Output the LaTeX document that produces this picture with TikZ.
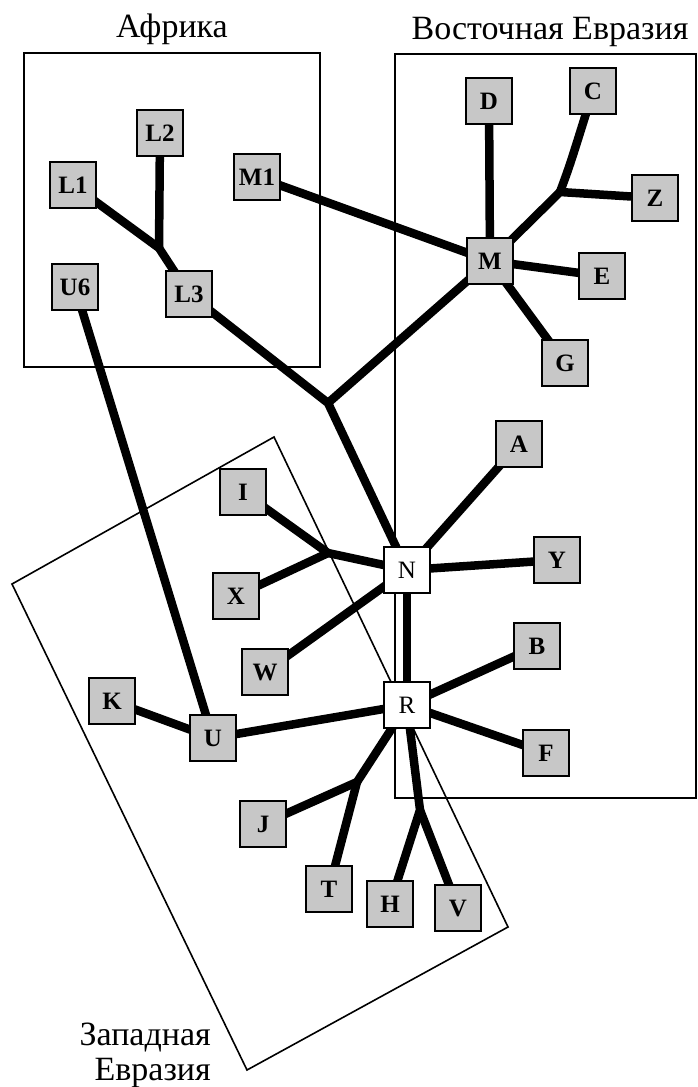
\documentclass[tikz,border=0pt]{standalone}
\usepackage{fontspec}
\setmainfont{Liberation Serif}
\usetikzlibrary{backgrounds}
\begin{document}
\begin{tikzpicture}[x=1pt,y=-1pt,
  hap/.style={draw, line width=2.8pt, fill=black!22, minimum size=46pt, inner sep=0pt, font=\fontsize{25}{25}\selectfont\bfseries},
  hub/.style={hap, fill=white, font=\fontsize{25}{25}\selectfont},
  link/.style={line width=8.5pt, line join=round},
  region/.style={draw, line width=2pt},
  wregion/.style={draw, line width=1.6pt},
  lbl/.style={font=\fontsize{34}{34}\selectfont, inner sep=0pt}
]
\useasboundingbox (0,0) rectangle (698,1087);

% nodes
\node[hap] (L2) at (160,133) {L2};
\node[hap] (L1) at (73,185) {L1};
\node[hap] (M1) at (257,177) {M1};
\node[hap] (U6) at (75,287) {U6};
\node[hap] (L3) at (189,294) {L3};
\node[hap] (D) at (489,101) {D};
\node[hap] (C) at (593,91) {C};
\node[hap] (Z) at (655,198) {Z};
\node[hap] (M) at (490,261) {M};
\node[hap] (E) at (602,276) {E};
\node[hap] (G) at (565,363) {G};
\node[hap] (A) at (519,444) {A};
\node[hub] (N) at (407,570) {N};
\node[hap] (Y) at (557,560) {Y};
\node[hap] (B) at (537,646) {B};
\node[hub] (R) at (407,705) {R};
\node[hap] (F) at (546,753) {F};
\node[hap] (I) at (243,492) {I};
\node[hap] (X) at (236,596) {X};
\node[hap] (W) at (265,672) {W};
\node[hap] (K) at (112,701) {K};
\node[hap] (U) at (213,738) {U};
\node[hap] (J) at (263,824) {J};
\node[hap] (T) at (329,889) {T};
\node[hap] (H) at (390,904) {H};
\node[hap] (V) at (458,908) {V};

\coordinate (j1) at (159,248);
\coordinate (j2) at (560,192);
\coordinate (j5) at (328,403);
\coordinate (j6) at (328,553);
\coordinate (j3) at (357,782);
\coordinate (j4) at (420,810);

% labels
\node[lbl, anchor=base] (tAf) at (172,37) {Африка};
\node[lbl, anchor=base] (tEE) at (550,39) {Восточная Евразия};
\node[lbl, anchor=base east] (tWE1) at (211,1045) {Западная};
\node[lbl, anchor=base east] (tWE2) at (211,1080) {Евразия};

\begin{scope}[on background layer]
  % regions
  \draw[region] (24,53) rectangle (320,367);
  \draw[region] (395,54) rectangle (696,798);
  \draw[wregion] (274,437) -- (508,927) -- (247,1070) -- (12,584) -- cycle;
  % links
  \draw[link] (L1.center) -- (j1) -- (L3.center);
  \draw[link] (L2.center) -- (j1);
  \draw[link] (L3.center) -- (j5) -- (N.center);
  \draw[link] (M.center) -- (j5);
  \draw[link] (M1.center) -- (M.center);
  \draw[link] (D.center) -- (M.center);
  \draw[link] (M.center) -- (j2) -- (Z.center);
  \draw[link] (j2) .. controls (570,165) .. (C.center);
  \draw[link] (M.center) -- (E.center);
  \draw[link] (M.center) -- (G.center);
  \draw[link] (N.center) -- (A.center);
  \draw[link] (N.center) -- (Y.center);
  \draw[link] (N.center) -- (R.center);
  \draw[link] (I.center) -- (j6) -- (N.center);
  \draw[link] (X.center) -- (j6);
  \draw[link] (W.center) -- (N.center);
  \draw[link] (U6.center) -- (U.center);
  \draw[link] (K.center) -- (U.center) -- (R.center);
  \draw[link] (R.center) -- (B.center);
  \draw[link] (R.center) -- (F.center);
  \draw[link] (R.center) -- (j3) -- (J.center);
  \draw[link] (j3) -- (T.center);
  \draw[link] (R.center) -- (j4) -- (H.center);
  \draw[link] (j4) -- (V.center);
\end{scope}
\end{tikzpicture}
\end{document}
